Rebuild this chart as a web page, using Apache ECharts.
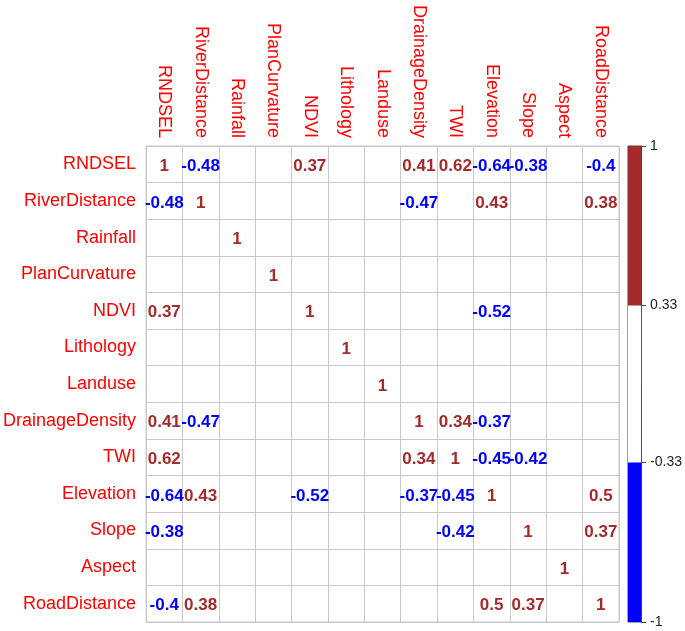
<!DOCTYPE html>
<html>
<head>
<meta charset="utf-8">
<script src="https://cdn.jsdelivr.net/npm/echarts@6/dist/echarts.min.js"></script>
<style>
  html, body { margin: 0; padding: 0; background: #fff; }
  #chart { width: 685px; height: 631px; }
</style>
</head>
<body>
<div id="chart"></div>
<script>
// variable names (same order for rows and columns)
const vars = ["RNDSEL", "RiverDistance", "Rainfall", "PlanCurvature", "NDVI", "Lithology",
  "Landuse", "DrainageDensity", "TWI", "Elevation", "Slope", "Aspect", "RoadDistance"];

// correlation rows, null = blank (not shown)
const _ = null;
const rRNDSEL          = [1, -0.48, _, _, 0.37, _, _, 0.41, 0.62, -0.64, -0.38, _, -0.4];
const rRiverDistance   = [-0.48, 1, _, _, _, _, _, -0.47, _, 0.43, _, _, 0.38];
const rRainfall        = [_, _, 1, _, _, _, _, _, _, _, _, _, _];
const rPlanCurvature   = [_, _, _, 1, _, _, _, _, _, _, _, _, _];
const rNDVI            = [0.37, _, _, _, 1, _, _, _, _, -0.52, _, _, _];
const rLithology       = [_, _, _, _, _, 1, _, _, _, _, _, _, _];
const rLanduse         = [_, _, _, _, _, _, 1, _, _, _, _, _, _];
const rDrainageDensity = [0.41, -0.47, _, _, _, _, _, 1, 0.34, -0.37, _, _, _];
const rTWI             = [0.62, _, _, _, _, _, _, 0.34, 1, -0.45, -0.42, _, _];
const rElevation       = [-0.64, 0.43, _, _, -0.52, _, _, -0.37, -0.45, 1, _, _, 0.5];
const rSlope           = [-0.38, _, _, _, _, _, _, _, -0.42, _, 1, _, 0.37];
const rAspect          = [_, _, _, _, _, _, _, _, _, _, _, 1, _];
const rRoadDistance    = [-0.4, 0.38, _, _, _, _, _, _, _, 0.5, 0.37, _, 1];

const rows = [rRNDSEL, rRiverDistance, rRainfall, rPlanCurvature, rNDVI, rLithology, rLanduse,
  rDrainageDensity, rTWI, rElevation, rSlope, rAspect, rRoadDistance];

// colour bar breaks
const barTicks = [-1, -0.33, 0.33, 1];

const POS = "#A52A2A", NEG = "#0000FF";
const FONT = "'Liberation Sans', Arial, sans-serif";

let cells = [];
rows.forEach((row, i) => {
  row.forEach((v, j) => {
    if (v === null) return;
    cells.push({
      value: [j, i, v],
      label: { color: v >= 0 ? POS : NEG }
    });
  });
});

let myChart = echarts.init(document.getElementById("chart"));
myChart.setOption({
  animation: false,
  textStyle: { fontFamily: FONT },
  grid: [
    { left: 144, top: 146, width: 475, height: 476, show: true, borderColor: "#c8c8c8", borderWidth: 1 },
    { left: 628, top: 146, width: 17, height: 476, show: true, borderColor: "#444", borderWidth: 1 }
  ],
  xAxis: [
    {
      type: "category",
      gridIndex: 0,
      data: vars,
      position: "top",
      axisLine: { show: false },
      axisTick: { show: false },
      splitLine: { show: true, interval: 0, lineStyle: { color: "#c8c8c8", width: 1 } },
      axisLabel: { interval: 0, rotate: 90, margin: 8, color: "#FF0000", fontSize: 18, fontFamily: FONT }
    },
    {
      type: "category",
      gridIndex: 1,
      data: ["bar"],
      show: false
    }
  ],
  yAxis: [
    {
      type: "category",
      gridIndex: 0,
      data: vars,
      inverse: true,
      axisLine: { show: false },
      axisTick: { show: false },
      splitLine: { show: true, interval: 0, lineStyle: { color: "#c8c8c8", width: 1 } },
      axisLabel: { interval: 0, margin: 10, color: "#FF0000", fontSize: 18, fontFamily: FONT }
    },
    {
      type: "value",
      gridIndex: 1,
      min: -1,
      max: 1,
      position: "right",
      splitLine: { show: false },
      axisLine: { show: true, lineStyle: { color: "#444" } },
      axisTick: { show: true, length: 5, customValues: barTicks, lineStyle: { color: "#444" } },
      axisLabel: { customValues: barTicks, margin: 9, color: "#222", fontSize: 14, fontFamily: FONT }
    }
  ],
  series: [
    {
      type: "scatter",
      xAxisIndex: 0,
      yAxisIndex: 0,
      symbolSize: 1,
      itemStyle: { color: "rgba(0,0,0,0)", opacity: 1 },
      label: {
        show: true,
        position: "inside",
        fontSize: 17,
        fontWeight: "bold",
        fontFamily: FONT,
        opacity: 1,
        offset: [0, 2],
        formatter: p => String(p.value[2])
      },
      data: cells
    },
    { type: "bar", xAxisIndex: 1, yAxisIndex: 1, barWidth: "100%", barGap: "-100%", data: [barTicks[3]], itemStyle: { color: POS } },
    { type: "bar", xAxisIndex: 1, yAxisIndex: 1, barWidth: "100%", barGap: "-100%", data: [barTicks[2]], itemStyle: { color: "#fff" } },
    { type: "bar", xAxisIndex: 1, yAxisIndex: 1, barWidth: "100%", barGap: "-100%", data: [barTicks[0]], itemStyle: { color: NEG } },
    { type: "bar", xAxisIndex: 1, yAxisIndex: 1, barWidth: "100%", barGap: "-100%", data: [barTicks[1]], itemStyle: { color: "#fff" } }
  ]
});
</script>
</body>
</html>
